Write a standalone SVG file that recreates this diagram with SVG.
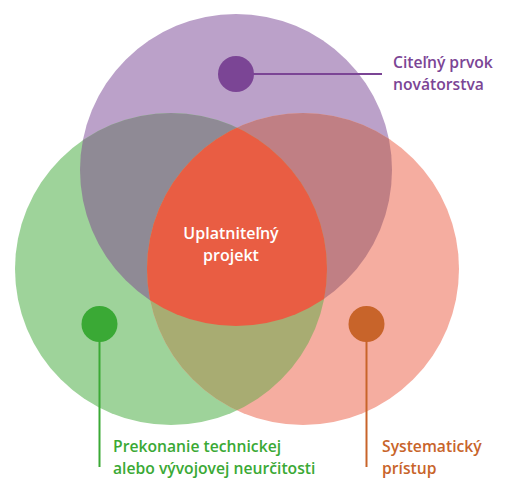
<svg xmlns="http://www.w3.org/2000/svg" width="505" height="483" viewBox="0 0 505 483">
<style>
.lbl{font-family:"Open Sans","Liberation Sans",sans-serif;font-weight:600;font-size:15.7px}
.ctr{font-family:"Open Sans","Liberation Sans",sans-serif;font-weight:600;font-size:16px;fill:#ffffff;text-anchor:middle}
</style>
<defs>
<clipPath id="cTop"><circle cx="236" cy="170" r="156"/></clipPath>
<clipPath id="cLeft"><circle cx="171" cy="269" r="156"/></clipPath>
<clipPath id="cRight"><circle cx="303" cy="269" r="156"/></clipPath>
</defs>
<g id="circles">
<circle cx="236" cy="170" r="156" fill="#BBA1C9"/>
<circle cx="171" cy="269" r="156" fill="#9ED39A"/>
<circle cx="303" cy="269" r="156" fill="#F5ADA0"/>
<circle cx="171" cy="269" r="156" fill="#8F8A95" clip-path="url(#cTop)"/>
<circle cx="303" cy="269" r="156" fill="#C07F84" clip-path="url(#cTop)"/>
<circle cx="303" cy="269" r="156" fill="#A8AC72" clip-path="url(#cLeft)"/>
<g clip-path="url(#cTop)"><circle cx="303" cy="269" r="156" fill="#E95D43" clip-path="url(#cLeft)"/></g>
</g>
<g id="connectors" fill="none" stroke-width="2">
<line x1="236" y1="74" x2="382" y2="74" stroke="#7B4595"/>
<line x1="99.5" y1="324" x2="99.5" y2="467" stroke="#3AA935"/>
<line x1="366.5" y1="324" x2="366.5" y2="467" stroke="#C8642A"/>
</g>
<g id="node-center">
<text class="ctr" x="231" y="239">Uplatniteľný</text>
<text class="ctr" x="231" y="261">projekt</text>
</g>
<g id="node-purple">
<circle cx="236" cy="74" r="18" fill="#7B4595"/>
<text class="lbl" fill="#7B4595" x="393" y="68">Citeľný prvok</text>
<text class="lbl" fill="#7B4595" x="393" y="90">novátorstva</text>
</g>
<g id="node-green">
<circle cx="99.5" cy="324" r="18" fill="#3AA935"/>
<text class="lbl" fill="#3AA935" x="113" y="452">Prekonanie technickej</text>
<text class="lbl" fill="#3AA935" x="113" y="474">alebo vývojovej neurčitosti</text>
</g>
<g id="node-orange">
<circle cx="366.5" cy="324" r="18" fill="#C8642A"/>
<text class="lbl" fill="#C8642A" x="382" y="452">Systematický</text>
<text class="lbl" fill="#C8642A" x="382" y="474">prístup</text>
</g>
</svg>
